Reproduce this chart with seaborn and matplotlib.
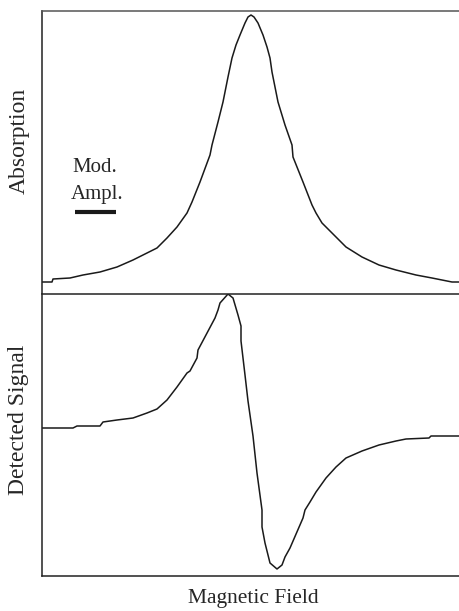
import matplotlib
matplotlib.use("Agg")
import matplotlib.pyplot as plt
import seaborn as sns
import pandas as pd

# Top panel: absorption line (arbitrary units)
abs_field = [0, 10, 11, 28, 41, 58, 75, 91, 105, 115, 125, 135, 145, 150, 158, 168, 170,
             176, 181, 186, 190, 194, 198, 203, 206, 209, 212, 216, 221, 225, 228, 230,
             236, 243, 250, 251, 261, 270, 274, 280, 292, 304, 320, 337, 354, 374, 390,
             410, 417]
abs_value = [11, 11, 14, 15, 18, 21, 26, 33, 40, 45, 55, 66, 80, 91, 111, 138, 148,
             171, 191, 216, 235, 248, 258, 270, 276, 278, 276, 270, 258, 246, 235, 221,
             191, 168, 148, 136, 111, 88, 80, 70, 58, 46, 36, 28, 23, 18, 15,
             11, 11]

# Bottom panel: detected (derivative) signal
sig_field = [0, 31, 35, 58, 61, 75, 91, 105, 115, 125, 135, 145, 148, 155, 156, 173, 176,
             178, 186, 191, 196, 199, 199, 203, 206, 211, 215, 220, 220, 223, 228, 235,
             240, 243, 248, 261, 263, 268, 274, 284, 294, 304, 320, 337, 354, 364, 387,
             389, 417]
sig_value = [148, 148, 150, 150, 154, 156, 158, 163, 167, 176, 189, 203, 205, 218, 226, 258, 266,
             273, 282, 278, 261, 250, 235, 201, 175, 140, 103, 66, 49, 33, 13, 7,
             11, 19, 28, 58, 66, 74, 84, 98, 109, 118, 125, 131, 135, 137, 138,
             140, 140]

panel_labels = ["Absorption", "Detected Signal"]
x_label = "Magnetic Field"
mod_text = ["Mod.", "Ampl."]

sns.set_theme(style="white")
plt.rcParams["font.family"] = ["Liberation Serif", "DejaVu Serif"]

W, H = 459, 611
fig = plt.figure(figsize=(W / 100, H / 100), dpi=100)
left = 42 / W
ax_top = fig.add_axes([left, (H - 293) / H, 1 - left, 282 / H])
ax_bot = fig.add_axes([left, (H - 576) / H, 1 - left, 282 / H])

df_abs = pd.DataFrame({"field": abs_field, "value": abs_value})
df_sig = pd.DataFrame({"field": sig_field, "value": sig_value})

line_kw = dict(color="#1a1a1a", linewidth=1.1, estimator=None, sort=False)
sns.lineplot(data=df_abs, x="field", y="value", ax=ax_top, **line_kw)
sns.lineplot(data=df_sig, x="field", y="value", ax=ax_bot, **line_kw)

for ax in (ax_top, ax_bot):
    ax.set_xlim(0, 417)
    ax.set_ylim(0, 282)
    ax.set_xticks([])
    ax.set_yticks([])
    ax.set_xlabel("")
    ax.spines["right"].set_visible(False)
    for s in ("left", "bottom", "top"):
        ax.spines[s].set_color("#222222")
        ax.spines[s].set_linewidth(1.1)
ax_top.spines["top"].set_color("#555555")
ax_top.spines["bottom"].set_visible(False)

ax_top.set_ylabel(panel_labels[0], fontsize=17, va="center")
ax_top.yaxis.set_label_coords(-23 / 417, (293 - 141) / 282)
ax_bot.set_ylabel(panel_labels[1], fontsize=17, va="center")
ax_bot.yaxis.set_label_coords(-23 / 417, (576 - 420) / 282)
ax_bot.set_xlabel(x_label, fontsize=15.5, va="center")
ax_bot.xaxis.set_label_coords((253 - 42) / 417, (576 - 598) / 282)

# Modulation amplitude annotation
ax_top.text(95 - 42, 293 - 167, mod_text[0], fontsize=15, ha="center", va="center")
ax_top.text(97 - 42, 293 - 195, mod_text[1], fontsize=15, ha="center", va="center")
ax_top.plot([75 - 42, 116 - 42], [293 - 212, 293 - 212], color="#1a1a1a",
            linewidth=3, solid_capstyle="butt")

fig.savefig("out.png", dpi=100)
